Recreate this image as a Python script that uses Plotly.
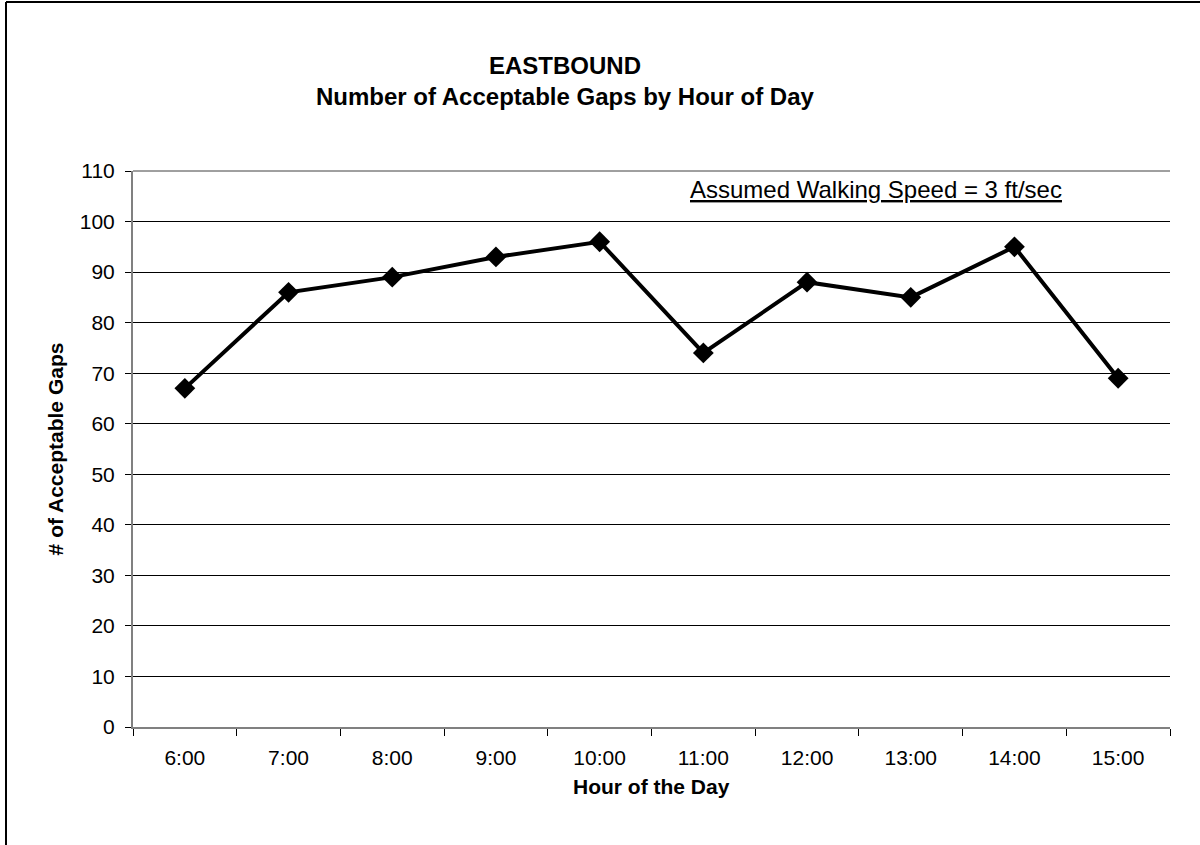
import plotly.graph_objects as go

hours = ["6:00", "7:00", "8:00", "9:00", "10:00", "11:00", "12:00", "13:00", "14:00", "15:00"]
gaps = [67, 86, 89, 93, 96, 74, 88, 85, 95, 69]
y_ticks = list(range(0, 111, 10))

W, H = 1200, 845
L, R, T, B = 133, 30, 171, 118
PW, PH = W - L - R, H - T - B

def px_x(p):
    return (p - L) / PW

def px_y(p):
    return (H - B - p) / PH

FONT = "Liberation Sans, Arial, sans-serif"

fig = go.Figure()
fig.add_trace(go.Scatter(
    x=hours, y=gaps, mode="lines+markers",
    line=dict(color="black", width=4),
    marker=dict(symbol="diamond", size=16, color="black"),
    showlegend=False, hoverinfo="x+y",
))

fig.update_layout(
    width=W, height=H,
    margin=dict(l=L, r=R, t=T, b=B),
    paper_bgcolor="white", plot_bgcolor="white",
    font=dict(family=FONT, color="black", size=21),
    xaxis=dict(
        type="category", range=[-0.5, 9.5], tickson="boundaries",
        ticks="outside", ticklen=7, tickcolor="black", tickwidth=1,
        showline=True, linecolor="#808080", linewidth=2,
        showgrid=False, zeroline=False,
        tickfont=dict(size=21, family=FONT), ticklabelstandoff=11,
    ),
    yaxis=dict(
        range=[0, 110], tickvals=y_ticks, ticktext=[str(v) for v in y_ticks],
        ticks="outside", ticklen=6, tickcolor="black", tickwidth=1,
        showline=True, linecolor="#808080", linewidth=2,
        showgrid=True, gridcolor="black", gridwidth=1, zeroline=False,
        tickfont=dict(size=21, family=FONT), ticklabelstandoff=6,
        title=dict(text="<b># of Acceptable Gaps</b>", font=dict(size=21, family=FONT), standoff=10),
    ),
    annotations=[
        dict(text="<b>EASTBOUND</b>", x=px_x(565), y=px_y(65), xref="paper", yref="paper",
             showarrow=False, font=dict(size=24, family=FONT), xanchor="center", yanchor="middle"),
        dict(text="<b>Number of Acceptable Gaps by Hour of Day</b>", x=px_x(565), y=px_y(97),
             xref="paper", yref="paper", showarrow=False, font=dict(size=24, family=FONT),
             xanchor="center", yanchor="middle"),
        dict(text="<u>Assumed Walking Speed = 3 ft/sec</u>", x=px_x(876), y=px_y(189),
             xref="paper", yref="paper", showarrow=False, font=dict(size=24, family=FONT),
             xanchor="center", yanchor="middle"),
        dict(text="<b>Hour of the Day</b>", x=0.5, y=px_y(786), xref="paper", yref="paper",
             showarrow=False, font=dict(size=21, family=FONT), xanchor="center", yanchor="middle"),
    ],
    shapes=[
        dict(type="line", xref="paper", yref="paper", x0=0, x1=1, y0=1, y1=1,
             line=dict(color="#404040", width=1)),
        dict(type="line", xref="paper", yref="paper", x0=px_x(6), x1=px_x(6),
             y0=px_y(H + 5), y1=px_y(2), line=dict(color="black", width=2)),
        dict(type="line", xref="paper", yref="paper", x0=px_x(6), x1=px_x(W + 5),
             y0=px_y(2), y1=px_y(2), line=dict(color="black", width=2)),
    ],
)

fig.write_html("out.html", config={"displayModeBar": False},
               post_script="document.body.style.margin='0';")
